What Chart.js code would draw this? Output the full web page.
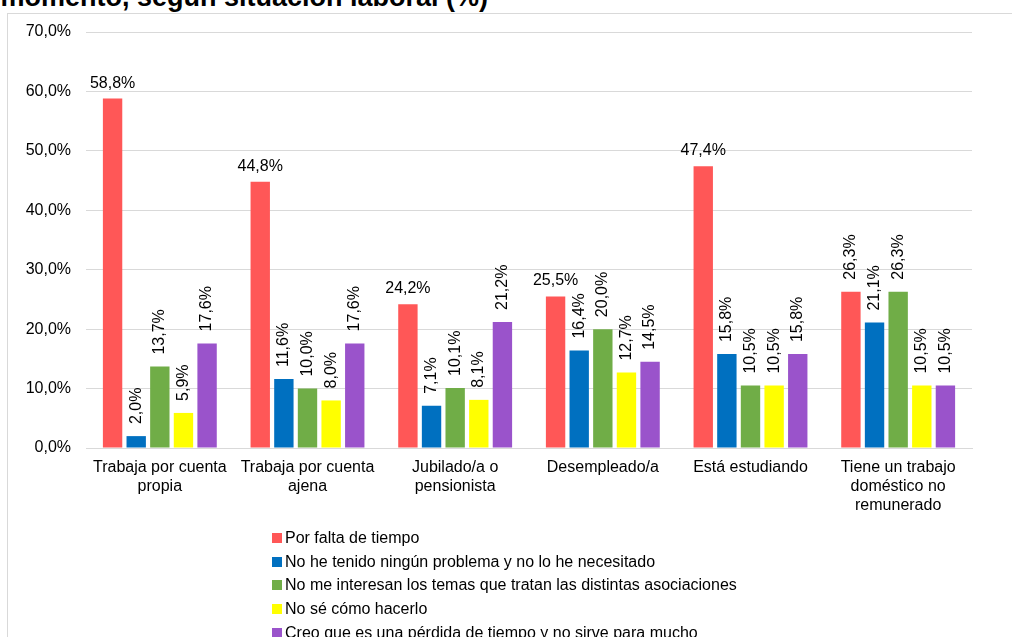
<!DOCTYPE html>
<html>
<head>
<meta charset="utf-8">
<script src="https://cdn.jsdelivr.net/npm/chart.js@4.4.0/dist/chart.umd.min.js"></script>
<style>
  html, body { margin: 0; padding: 0; background: #fff; overflow: hidden; }
  body { width: 1012px; height: 637px; position: relative; font-family: Arial, "Liberation Sans", sans-serif; }
  #title { position: absolute; right: 524px; top: -18px; font-size: 27px; font-weight: bold; color: #000; white-space: nowrap; }
  #frame { position: absolute; left: 7px; top: 13px; width: 1100px; height: 700px; border: 1px solid #d9d9d9; box-sizing: border-box; }
  #wrap { position: absolute; left: 0; top: 0; width: 1012px; height: 637px; }
  #legend { position: absolute; left: 272px; top: 526px; font-size: 16px; color: #000; }
  #legend div { height: 23.7px; line-height: 23.7px; white-space: nowrap; }
  #legend span { display: inline-block; width: 10px; height: 10px; margin-right: 3px; }
</style>
</head>
<body>
<div id="frame"></div>
<div id="title">momento, según situación laboral (%)</div>
<div id="wrap"><canvas id="chart"></canvas></div>
<div id="legend"></div>
<script>
// Situación laboral
const categories = [
  ['Trabaja por cuenta', 'propia'],
  ['Trabaja por cuenta', 'ajena'],
  ['Jubilado/a o', 'pensionista'],
  'Desempleado/a',
  'Está estudiando',
  ['Tiene un trabajo', 'doméstico no', 'remunerado']
];

const seriesNames = [
  'Por falta de tiempo',
  'No he tenido ningún problema y no lo he necesitado',
  'No me interesan los temas que tratan las distintas asociaciones',
  'No sé cómo hacerlo',
  'Creo que es una pérdida de tiempo y no sirve para mucho'
];

const faltaTiempo   = [58.8, 44.8, 24.2, 25.5, 47.4, 26.3];
const sinProblema   = [2.0, 11.6, 7.1, 16.4, 15.8, 21.1];
const noInteresa    = [13.7, 10.0, 10.1, 20.0, 10.5, 26.3];
const noSeComo      = [5.9, 8.0, 8.1, 12.7, 10.5, 10.5];
const perdidaTiempo = [17.6, 17.6, 21.2, 14.5, 15.8, 10.5];

const yTicks = [0, 10, 20, 30, 40, 50, 60, 70];

const COLORS = ['#ff5757', '#0070c0', '#70ad47', '#ffff00', '#9a53cb'];
const FONT = 'Arial, "Liberation Sans", sans-serif';

const fmt = v => v.toFixed(1).replace('.', ',') + '%';

// value labels: red bars flat above the bar (except the last group), the rest rotated
const valueLabels = {
  id: 'valueLabels',
  afterDatasetsDraw(chart) {
    const ctx = chart.ctx;
    ctx.save();
    ctx.font = '16px ' + FONT;
    ctx.fillStyle = '#000';
    chart.data.datasets.forEach((ds, di) => {
      const meta = chart.getDatasetMeta(di);
      meta.data.forEach((bar, i) => {
        const v = ds.data[i];
        const flat = di === 0 && i < 5;
        if (flat) {
          ctx.textAlign = 'center';
          ctx.textBaseline = 'alphabetic';
          ctx.fillText(fmt(v), bar.x, bar.y - 11);
        } else {
          ctx.save();
          ctx.translate(bar.x, bar.y - 12);
          ctx.rotate(-Math.PI / 2);
          ctx.textAlign = 'left';
          ctx.textBaseline = 'middle';
          ctx.fillText(fmt(v), 0, 0);
          ctx.restore();
        }
      });
    });
    ctx.restore();
  }
};

const allSeries = [faltaTiempo, sinProblema, noInteresa, noSeComo, perdidaTiempo];

const chart = new Chart(document.getElementById('chart').getContext('2d'), {
  type: 'bar',
  data: {
    labels: categories,
    datasets: allSeries.map((d, i) => ({
      label: seriesNames[i],
      data: d,
      backgroundColor: COLORS[i],
      borderWidth: 0,
      categoryPercentage: 0.8,
      barPercentage: 0.82
    }))
  },
  options: {
    responsive: true,
    maintainAspectRatio: false,
    animation: false,
    layout: { padding: { left: 0, right: 40, top: 32, bottom: 109 } },
    plugins: {
      legend: { display: false },
      tooltip: { enabled: false }
    },
    scales: {
      x: {
        grid: { display: false, drawTicks: false },
        border: { color: '#d9d9d9', width: 1 },
        ticks: {
          color: '#000',
          font: { family: FONT, size: 16, lineHeight: 1.2 },
          padding: 10,
          maxRotation: 0,
          autoSkip: false
        },
        afterFit: s => { s.height = 80; }
      },
      y: {
        min: 0,
        max: 70,
        grid: { color: '#d9d9d9', drawTicks: false },
        border: { display: false },
        afterBuildTicks: s => { s.ticks = yTicks.map(v => ({ value: v })); },
        ticks: {
          color: '#000',
          font: { family: FONT, size: 16 },
          padding: 15,
          callback: v => fmt(v)
        },
        afterFit: s => { s.width = 86; }
      }
    }
  },
  plugins: [valueLabels]
});

// legend, one row per series
const legend = document.getElementById('legend');
chart.data.datasets.forEach(ds => {
  const row = document.createElement('div');
  row.innerHTML = '<span style="background:' + ds.backgroundColor + '"></span>' + ds.label;
  legend.appendChild(row);
});
</script>
</body>
</html>
